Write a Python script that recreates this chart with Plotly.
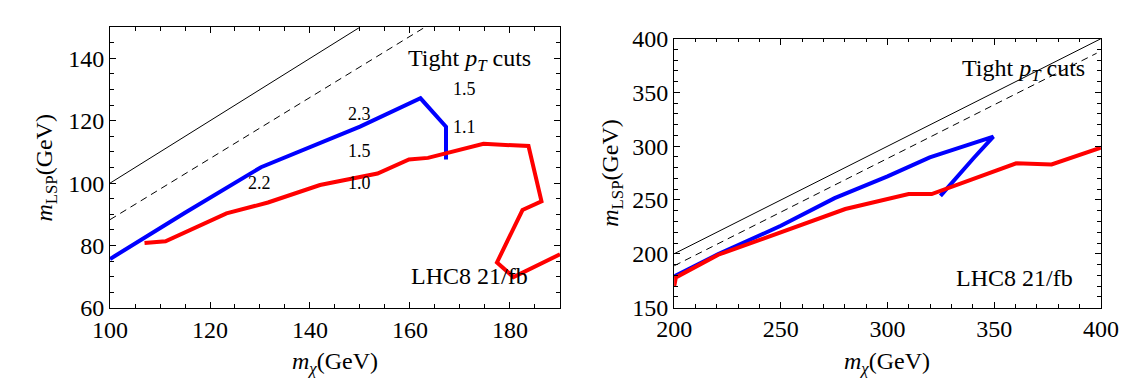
import plotly.graph_objects as go

# ---------------- data ----------------
# Left panel (m_chi 100-190)
L_diag_x = [100, 150]
L_diag_y = [100, 150]
L_dash_x = [100, 163]
L_dash_y = [88.3, 150]
L_blue_x = [100.0, 115.0, 130.2, 140.0, 150.0, 162.1, 167.2, 167.2]
L_blue_y = [75.7, 90.5, 105.1, 111.5, 118.1, 127.2, 118.1, 107.6]
L_red_x = [106.9, 111.1, 123.3, 131.6, 142.0, 153.5, 159.8, 163.6, 174.7, 183.7,
           186.3, 182.5, 177.4, 180.7, 190.0]
L_red_y = [80.8, 81.4, 90.3, 93.8, 99.4, 103.1, 107.6, 108.1, 112.6, 111.9,
           94.2, 91.4, 74.6, 69.9, 77.2]
L_num_text = ["1.5", "2.3", "1.1", "1.5", "2.2", "1.0"]
L_num_x = [171.0, 150.0, 171.0, 150.0, 129.9, 150.0]
L_num_y = [130.2, 122.2, 118.1, 110.2, 100.2, 100.2]

# Right panel (m_chi 200-400)
R_diag_x = [200, 400]
R_diag_y = [200, 400]
R_dash_x = [200, 398]
R_dash_y = [188.8, 386.5]
R_blue_x = [200.0, 220.7, 250.0, 275.2, 300.0, 319.8, 349.6, 340.5, 324.8]
R_blue_y = [178.9, 199.7, 226.0, 251.7, 272.0, 289.6, 309.0, 289.3, 253.8]
R_red_x = [200.0, 200.8, 220.7, 280.2, 309.9, 320.7, 360.3, 376.9, 400.0]
R_red_y = [169.4, 178.0, 199.1, 241.6, 255.5, 255.5, 284.1, 283.0, 298.6]

title_text = "Tight <i>p</i><sub><i>T</i></sub> cuts"
lumi_text = "LHC8 21/fb"

FONT = "Liberation Serif, Tinos, Times New Roman, Times, DejaVu Serif, serif"
BLUE = "#0000FF"
RED = "#FF0000"

fig = go.Figure()

def add_panel(xa, ya, dx, dy, sx, sy, bx, by, rx, ry):
    fig.add_trace(go.Scatter(x=dx, y=dy, mode="lines", xaxis=xa, yaxis=ya,
                             line=dict(color="black", width=1), showlegend=False))
    fig.add_trace(go.Scatter(x=sx, y=sy, mode="lines", xaxis=xa, yaxis=ya,
                             line=dict(color="black", width=1, dash="7px,5px"), showlegend=False))
    fig.add_trace(go.Scatter(x=bx, y=by, mode="lines", xaxis=xa, yaxis=ya,
                             line=dict(color=BLUE, width=4), showlegend=False))
    fig.add_trace(go.Scatter(x=rx, y=ry, mode="lines", xaxis=xa, yaxis=ya,
                             line=dict(color=RED, width=4), showlegend=False))

add_panel("x", "y", L_diag_x, L_diag_y, L_dash_x, L_dash_y, L_blue_x, L_blue_y, L_red_x, L_red_y)
add_panel("x2", "y2", R_diag_x, R_diag_y, R_dash_x, R_dash_y, R_blue_x, R_blue_y, R_red_x, R_red_y)

def axis_style(rng, dtick, tick0, minor_dtick, domain, anchor):
    return dict(
        range=rng, dtick=dtick, tick0=tick0, domain=domain, anchor=anchor,
        showline=True, linecolor="black", linewidth=1, mirror="ticks",
        ticks="inside", ticklen=6, tickwidth=1, tickcolor="black",
        showgrid=False, zeroline=False,
        tickfont=dict(family=FONT, size=24, color="black"),
        minor=dict(dtick=minor_dtick, ticks="inside", ticklen=3.5, tickwidth=1,
                   tickcolor="black", showgrid=False),
    )

fig.update_layout(
    width=1137, height=381,
    margin=dict(l=0, r=0, t=0, b=0),
    paper_bgcolor="white", plot_bgcolor="white",
    font=dict(family=FONT, color="black"),
    xaxis=axis_style([100, 190], 20, 100, 5, [0.0763, 0.4850], "y"),
    yaxis=axis_style([60, 150], 20, 60, 5, [0.1916, 0.9827], "x"),
    xaxis2=axis_style([200, 400], 50, 200, 10, [0.5887, 0.9763], "y2"),
    yaxis2=axis_style([150, 400], 50, 150, 10, [0.1929, 0.9501], "x2"),
)

ann = []
ann.append(dict(x=172.0, y=139.5, xref="x", yref="y", text=title_text, showarrow=False,
                font=dict(family=FONT, size=24, color="black")))
ann.append(dict(x=172.0, y=70.3, xref="x", yref="y", text=lumi_text, showarrow=False,
                font=dict(family=FONT, size=24, color="black")))
for t, xv, yv in zip(L_num_text, L_num_x, L_num_y):
    ann.append(dict(x=xv, y=yv, xref="x", yref="y", text=t, showarrow=False,
                    font=dict(family=FONT, size=18, color="black")))
ann.append(dict(x=363.6, y=370.8, xref="x2", yref="y2", text=title_text, showarrow=False,
                font=dict(family=FONT, size=24, color="black")))
ann.append(dict(x=359.5, y=177.2, xref="x2", yref="y2", text=lumi_text, showarrow=False,
                font=dict(family=FONT, size=24, color="black")))
xt = "<i>m</i><sub><i>χ</i></sub>(GeV)"
yt = "<i>m</i><sub>LSP</sub>(GeV)"
ann.append(dict(x=319 / 1137, y=1 - 367 / 381, xref="paper", yref="paper", text=xt,
                showarrow=False, font=dict(family=FONT, size=24, color="black"),
                xanchor="center", yanchor="middle"))
ann.append(dict(x=889.5 / 1137, y=1 - 367 / 381, xref="paper", yref="paper", text=xt,
                showarrow=False, font=dict(family=FONT, size=24, color="black"),
                xanchor="center", yanchor="middle"))
ann.append(dict(x=21 / 1137, y=1 - 157 / 381, xref="paper", yref="paper", text=yt, textangle=-90,
                showarrow=False, font=dict(family=FONT, size=24, color="black"),
                xanchor="center", yanchor="middle"))
ann.append(dict(x=605 / 1137, y=1 - 163 / 381, xref="paper", yref="paper", text=yt, textangle=-90,
                showarrow=False, font=dict(family=FONT, size=24, color="black"),
                xanchor="center", yanchor="middle"))
fig.update_layout(annotations=ann)

fig.write_html("out.html")
